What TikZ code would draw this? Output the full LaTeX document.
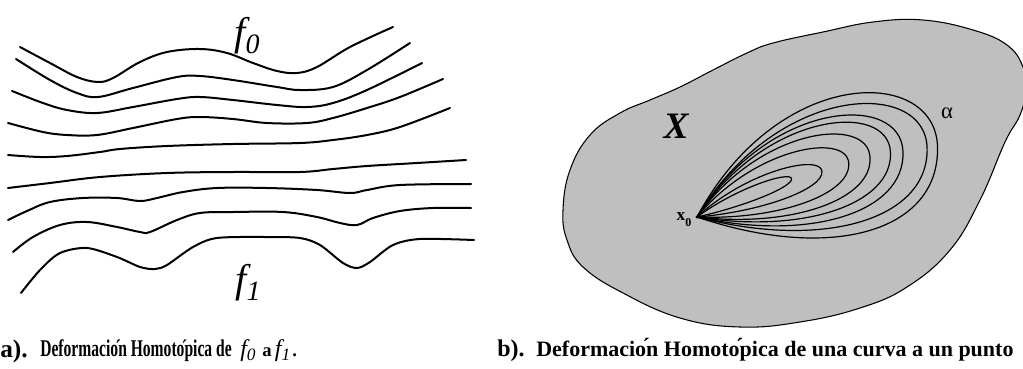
\documentclass[tikz,border=0pt]{standalone}
\usepackage{fontspec}
\setmainfont{Liberation Serif}
\newfontfamily\estrecha[FakeStretch=0.65]{Liberation Serif}

\tikzset{
  curva/.style={line width=1.5pt, line cap=round},
  lazo/.style={line width=0.9pt},
  borde/.style={draw=black, line width=0.8pt, fill=black!25},
  rotulo/.style={inner sep=0pt, anchor=base west},
}
\newcommand{\acento}[1]{\makebox[0pt]{\raisebox{#1}{´}}}
\newcommand{\fsub}[4]{{\fontsize{#1}{#1}\selectfont\itshape f}\raisebox{#4}{\fontsize{#2}{#2}\selectfont\itshape #3}}

\begin{document}
\begin{tikzpicture}[x=0.75pt, y=-0.75pt]
\useasboundingbox (0,0) rectangle (1023,368);

% a) curvas de f0 a f1
\draw[curva] plot[smooth, tension=0.6] coordinates {(20,47) (50,63) (77,77) (98,82) (113,78) (140,62) (167,52) (200,49) (227,53) (253,63) (277,71) (297,73) (317,67) (350,47) (393,27)};
\draw[curva] plot[smooth, tension=0.6] coordinates {(16,59) (50,80) (77,93) (98,97) (133,88) (177,77) (200,76) (233,80) (277,87) (300,90) (333,87) (367,70) (410,43)};
\draw[curva] plot[smooth, tension=0.6] coordinates {(12,91) (43,103) (67,110) (97,113) (133,107) (177,99) (200,97) (233,100) (277,105) (307,107) (333,103) (367,90) (422,63)};
\draw[curva] plot[smooth, tension=0.6] coordinates {(8,123) (43,132) (67,135) (97,135) (133,128) (177,119) (200,117) (233,119) (267,123) (307,123) (333,118) (367,108) (400,97) (443,79)};
\draw[curva] plot[smooth, tension=0.6] coordinates {(8,155) (40,157) (67,156) (100,152) (120,149) (167,146) (233,144) (300,143) (333,140) (367,135) (400,127) (450,108)};
\draw[curva] plot[smooth, tension=0.6] coordinates {(8,188) (50,183) (100,177) (167,173) (233,172) (300,172) (333,169) (367,166) (417,163) (466,160)};
\draw[curva] plot[smooth, tension=0.6] coordinates {(8,220) (27,211) (50,202) (83,198) (117,198) (140,201) (157,198) (183,192) (217,188) (267,188) (317,190) (350,193) (367,190) (400,185) (471,184)};
\draw[curva] plot[smooth, tension=0.6] coordinates {(13,252) (33,237) (60,225) (87,222) (117,227) (140,232) (150,232) (177,220) (200,213) (233,212) (283,212) (317,217) (340,223) (357,225) (373,218) (400,211) (433,208) (471,208)};
\draw[curva] plot[smooth, tension=0.5] coordinates {(21,293) (40,270) (60,253) (87,248) (117,257) (140,267) (155,269) (167,265) (193,247) (217,238) (267,237) (300,238) (320,245) (343,263) (357,268) (370,262) (393,245) (420,239) (474,240)};

\node (f0) at (247,36) {\fsub{30}{21}{0}{-6pt}};
\node (f1) at (248,283) {\fsub{30}{21}{1}{-6pt}};

% b) curva que se contrae al punto x0
\draw[borde] plot[smooth cycle, tension=0.7] coordinates {(563,210) (570,170) (590,135) (620,113) (650,100) (680,87) (713,70) (747,53) (773,43) (823,32) (873,22) (923,20) (973,30) (1007,45) (1023,67) (1026,90) (1020,115) (1005,142) (980,200) (950,250) (907,287) (860,308) (800,322) (740,327) (680,318) (623,293) (583,267) (567,240)};

\coordinate (x0) at (697,217);
\foreach \t/\L/\W in {22/102/8, 20/133/17, 19.5/161/30, 19/183/41, 18.5/204/50, 17.5/216/58, 16.5/240/68, 15.8/250/80}
  \draw[lazo, shift={(x0)}, rotate=\t, y=0.75pt] (0,0) .. controls (0.466*\L,-\W) and (\L-0.28*\W,-\W) .. (\L,0) .. controls (\L+0.29*\W,\W) and (0.48*\L,1.56*\W) .. (0,0);
\fill (x0) circle (1.3pt);

\node[anchor=east, inner sep=1pt] (xcero) at (693,220) {\fontsize{13}{13}\selectfont\bfseries x\raisebox{-0.35em}{\fontsize{9}{9}\selectfont 0}};
\node (X) at (676,126) {\fontsize{28}{28}\selectfont\bfseries\itshape X};
\node (alfa) at (947,113) {\fontsize{17}{17}\selectfont α};

% leyendas
\node[rotulo] (ra) at (0,357) {\fontsize{19}{19}\selectfont\bfseries a).};
\node[rotulo] (ta) at (40,356) {\estrecha\fontsize{18}{18}\selectfont\bfseries Deformacio\acento{0pt}n Homoto\acento{0pt}pica de};
\node[rotulo] (fa) at (240,356) {\fsub{18}{13}{0}{-3pt}\ \ {\bfseries\fontsize{14}{14}\selectfont a} \fsub{18}{13}{1}{-3pt}\,{\bfseries\fontsize{14}{14}\selectfont .}};
\node[rotulo] (rb) at (497,356) {\fontsize{18}{18}\selectfont\bfseries b).};
\node[rotulo] (tb) at (536,356) {\fontsize{16.5}{16.5}\selectfont\bfseries Deformacio\acento{0.12em}n Homoto\acento{0.12em}pica de una curva a un punto};
\end{tikzpicture}
\end{document}
